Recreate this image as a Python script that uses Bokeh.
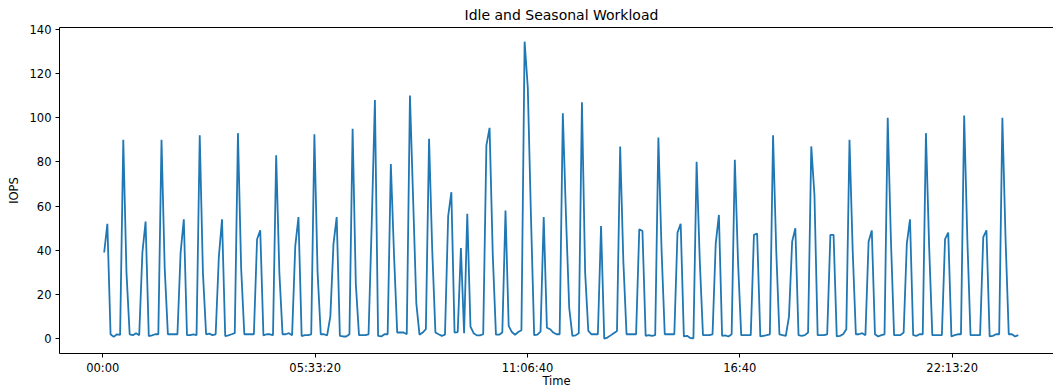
from bokeh.plotting import figure
from bokeh.models import Range1d, FixedTicker, LinearAxis
from bokeh.embed import file_html
from bokeh.resources import INLINE

# IOPS samples, one every 5 minutes over a day
iops = [
    39, 52, 2, 0.8, 2, 1.7, 90, 30, 2, 1.6, 2.5, 1.6,
    39, 53, 1.2, 1.5, 2, 2, 90, 32, 2, 2, 2, 2,
    39, 54, 1.6, 1.6, 2, 1.6, 92, 30, 2, 2.3, 1.6, 2,
    37, 54, 1.2, 1.5, 2, 2.5, 93, 32, 2, 2, 2, 2,
    45, 49, 1.5, 2, 2, 1.6, 83, 30, 2, 2, 2.5, 1.6,
    42, 55, 1.2, 1.6, 1.6, 2, 92.5, 30, 2, 2, 1.5, 10,
    43, 55, 1.3, 1, 1, 2, 95, 25, 1.6, 1.6, 1.6, 2,
    52, 108, 1.3, 1, 2, 2, 79, 38, 2.8, 2.8, 2.8, 2,
    110, 63, 16, 1.8, 2.8, 4.3, 90.5, 40, 2.8, 2, 1.3, 1.8,
    55.5, 66.3, 2.8, 3, 41, 2.5, 56.5, 5.5, 2.5, 1.5, 1.5, 2,
    87.5, 95.4, 38, 1.8, 1.8, 2.8, 58, 5.8, 3, 1.8, 3, 3.8,
    134.4, 113.6, 55, 1.6, 1.8, 3.2, 55, 5, 4.3, 2.8, 2, 2,
    102, 55, 14, 1.3, 1.5, 2.5, 107, 30, 3.5, 2, 2, 2,
    51, 0, 0.5, 1.5, 2.5, 3.5, 87, 35, 2, 2, 2, 2,
    49.5, 48.7, 1.3, 1.6, 1.3, 1.6, 91, 40, 2, 2, 2, 2,
    48, 52, 1, 1.3, 0.3, 0.2, 80, 35, 1.6, 1.6, 1.6, 2,
    43, 56, 1.3, 1.5, 1, 2, 81, 35, 1.6, 1.6, 1.6, 1.6,
    47, 47.6, 1, 1.3, 1.6, 2, 92, 40, 2, 1.6, 1.3, 10,
    44, 50, 1.6, 1.3, 1.6, 2.8, 87, 65, 1.6, 1.6, 1.6, 2,
    47, 47, 1, 1.3, 2, 4.3, 90, 40, 2, 2, 2.5, 1.6,
    44, 49, 2, 1, 1.6, 2, 100, 45, 1.6, 1.6, 1.6, 2.8,
    43, 54, 1.6, 1.3, 2, 2, 93, 42, 1.6, 1.6, 1.6, 1.6,
    45, 48, 1, 1.6, 2, 2, 101, 45, 1.6, 1.6, 1.6, 1.6,
    46, 49, 1, 1.3, 2, 2, 100, 45, 2, 2, 1, 1.6,
]

# sample clock: seconds since midnight
start_s = 130
step_s = 300
seconds = [start_s + step_s * i for i in range(len(iops))]

tick_seconds = [0, 20000, 40000, 60000, 80000]
tick_labels = ["00:00", "05:33:20", "11:06:40", "16:40", "22:13:20"]
y_ticks = [0, 20, 40, 60, 80, 100, 120, 140]

FONT = "DejaVu Sans"
TICK_SIZE = "11.5px"

p = figure(
    width=1053, height=391,
    output_backend="svg", toolbar_location=None,
    x_range=Range1d(-4078, 89545), y_range=Range1d(-6.7, 140.8),
    min_border_left=59, min_border_right=0,
    min_border_top=26, min_border_bottom=38,
    title="Idle and Seasonal Workload",
    x_axis_label="Time", y_axis_label="IOPS",
)
p.outline_line_color = None
p.background_fill_color = "white"
p.border_fill_color = "white"
p.grid.visible = False

p.title.align = "left"
p.title.offset = 405
p.title.standoff = 9
p.title.text_font = FONT
p.title.text_font_size = "14px"
p.title.text_font_style = "normal"
p.title.text_color = "black"

for ax in (p.xaxis[0], p.yaxis[0]):
    ax.axis_line_color = "black"
    ax.axis_line_width = 1
    ax.major_tick_line_color = "black"
    ax.major_tick_line_width = 1
    ax.major_tick_out = 4
    ax.major_tick_in = 0
    ax.minor_tick_line_color = None
    ax.major_label_text_font = FONT
    ax.major_label_text_font_size = TICK_SIZE
    ax.major_label_text_color = "black"
    ax.axis_label_text_font = FONT
    ax.axis_label_text_font_size = TICK_SIZE
    ax.axis_label_text_font_style = "normal"
    ax.axis_label_text_color = "black"

p.xaxis.ticker = FixedTicker(ticks=tick_seconds)
p.xaxis.major_label_overrides = dict(zip(tick_seconds, tick_labels))
p.xaxis.major_label_standoff = 3
p.xaxis.axis_label_standoff = -4
p.yaxis.ticker = FixedTicker(ticks=y_ticks)
p.yaxis.major_label_standoff = 4
p.yaxis.axis_label_standoff = 6

# plain top spine
top = LinearAxis(ticker=FixedTicker(ticks=[]), major_label_text_font_size="0px",
                 axis_line_color="black", axis_line_width=1,
                 major_tick_line_color=None, minor_tick_line_color=None)
p.add_layout(top, "above")

p.line(seconds, iops, line_color="#1f77b4", line_width=1.8)

open("out.html", "w").write(file_html(p, INLINE))
